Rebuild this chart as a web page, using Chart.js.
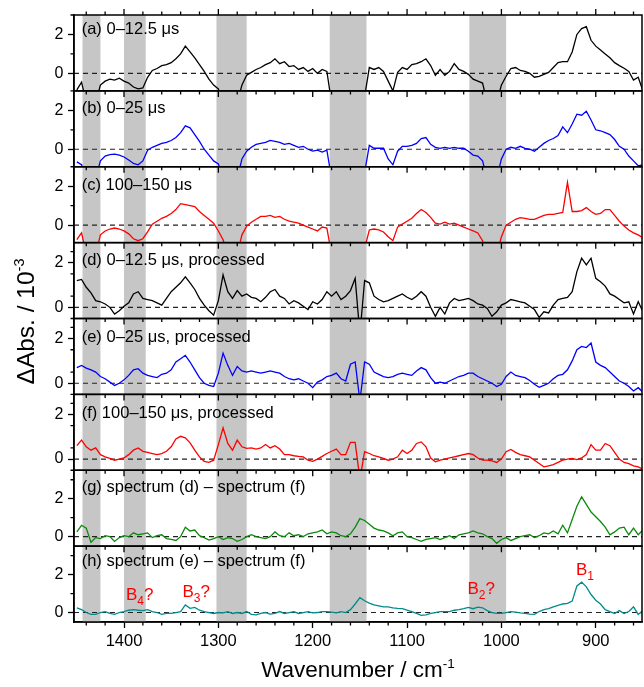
<!DOCTYPE html>
<html><head><meta charset="utf-8">
<script src="https://cdn.jsdelivr.net/npm/chart.js@4/dist/chart.umd.min.js"></script>
<style>html,body{margin:0;padding:0;background:#fff}canvas{display:block}</style>
</head><body>
<canvas id="c" width="644" height="687"></canvas>
<script>
// ---------- data ----------
const wavenumbers = [
1450,1445,1440,1435,1430,1425,1420,1415,1410,1405,
1400,1395,1390,1385,1380,1375,1370,1365,1360,1355,
1350,1345,1340,1335,1330,1325,1320,1315,1310,1305,
1300,1295,1290,1285,1280,1275,1270,1265,1260,1255,
1250,1245,1240,1235,1230,1225,1220,1215,1210,1205,
1200,1195,1190,1185,1180,1175,1170,1165,1160,1155,
1150,1145,1140,1135,1130,1125,1120,1115,1110,1105,
1100,1095,1090,1085,1080,1075,1070,1065,1060,1055,
1050,1045,1040,1035,1030,1025,1020,1015,1010,1005,
1000,995,990,985,980,975,970,965,960,955,
950,945,940,935,930,925,920,915,910,905,
900,895,890,885,880,875,870,865,860,855,
850];

const specA = [
-0.85,-0.45,-1.5,-1.5,-1.5,-0.6,-0.4,-0.3,-0.35,-0.25,
-0.4,-0.5,-0.7,-0.8,-0.75,-0.2,0.15,0.25,0.4,0.45,
0.55,0.75,1.0,1.4,1.1,0.8,0.45,0.1,-0.3,-0.6,
-0.8,-1.5,-1.5,-1.5,-1.5,-0.6,-0.1,0.05,0.2,0.3,
0.45,0.55,0.75,0.5,0.6,0.35,0.4,0.2,0.3,0.1,
0.25,0.0,0.2,0.1,-1.5,-1.5,-1.5,-1.5,-1.5,-1.5,
-1.5,-1.2,0.3,0.2,0.3,0.1,-0.4,-0.9,0.05,0.3,
0.2,0.45,0.5,0.6,0.75,0.4,-0.1,0.2,-0.1,0.1,
0.5,0.2,0.1,-0.05,-0.3,-0.4,-0.5,-1.5,-1.5,-1.5,
-0.6,-0.15,0.25,0.3,0.15,0.1,0.0,-0.2,-0.15,-0.05,
0.05,0.3,0.55,0.6,0.6,1.1,2.0,2.3,2.4,1.7,
1.4,1.2,1.0,0.8,0.55,0.4,0.26,0.1,-0.35,-0.2,
-0.9];

const specB = [
-0.65,-0.8,-1.5,-1.5,-1.5,-0.6,-0.35,-0.28,-0.25,-0.3,
-0.4,-0.55,-0.73,-0.8,-0.6,-0.05,0.1,0.2,0.3,0.35,
0.45,0.6,0.85,1.2,1.1,0.75,0.4,0.0,-0.3,-0.6,
-0.75,-1.5,-1.5,-1.5,-1.5,-0.5,-0.1,0.1,0.25,0.3,
0.35,0.45,0.4,0.35,0.25,0.3,0.2,0.1,0.15,0.0,
-0.1,-0.05,-0.15,-0.05,-1.5,-1.5,-1.5,-1.5,-1.5,-1.5,
-1.5,-1.2,0.2,0.05,0.05,0.05,-0.5,-0.8,-0.1,0.15,
0.15,0.2,0.3,0.55,0.6,0.25,0.1,0.05,0.1,0.05,
0.1,0.05,0.05,-0.1,-0.3,-0.35,-0.6,-1.5,-1.5,-1.5,
-0.5,0.0,0.1,0.05,0.15,0.05,0.0,-0.1,0.1,0.3,
0.45,0.55,0.7,1.15,0.85,1.3,1.8,1.75,1.95,1.5,
1.0,0.95,0.85,0.75,0.5,0.15,0.0,-0.35,-0.6,-0.85,
-0.8];

const specC = [
-0.75,-0.4,-1.5,-1.5,-1.5,-0.5,-0.3,-0.2,-0.15,-0.2,
-0.3,-0.45,-0.7,-0.8,-0.7,-0.35,0.05,0.2,0.35,0.45,
0.6,0.8,1.1,1.05,1.0,0.95,0.7,0.5,0.3,0.1,
-0.3,-0.75,-1.5,-1.5,-1.5,-0.5,-0.05,0.15,0.3,0.45,
0.45,0.5,0.4,0.45,0.3,0.2,0.15,0.1,0.0,-0.1,
-0.2,-0.3,-0.1,-0.15,-1.5,-1.5,-1.5,-1.5,-1.5,-1.5,
-1.5,-1.2,-0.25,-0.2,-0.25,-0.35,-0.6,-0.8,-0.1,0.05,
0.2,0.35,0.6,0.8,0.65,0.4,0.1,0.05,0.15,0.05,
0.1,0.0,-0.1,-0.2,-0.3,-0.4,-0.8,-1.5,-1.5,-1.5,
-0.6,0.0,0.15,0.3,0.38,0.35,0.3,0.3,0.4,0.5,
0.55,0.55,0.6,0.65,2.2,0.7,0.7,0.75,0.9,0.7,
0.55,0.6,0.8,0.8,0.5,0.2,-0.05,-0.25,-0.4,-0.5,
-0.65];

const specD = [
1.2,1.25,0.9,0.65,0.3,0.25,0.15,0.0,-0.3,-0.15,
0.05,0.2,0.6,0.7,0.4,0.35,0.3,0.2,0.1,0.4,
0.7,0.9,1.1,1.37,1.1,0.8,0.4,0.1,-0.15,-0.35,
0.3,1.45,0.7,0.4,0.75,0.5,0.6,0.45,0.4,0.25,
0.45,0.7,0.8,0.5,0.4,0.15,0.3,0.2,0.05,-0.1,
0.25,0.15,0.35,0.7,0.5,0.7,0.35,0.5,0.75,1.3,
-1.2,1.2,1.1,0.5,0.35,0.25,0.3,0.4,0.5,0.6,
0.45,0.35,0.5,0.7,0.5,0.0,-0.4,0.0,-0.3,0.2,
0.4,0.3,0.35,0.4,0.3,0.15,0.1,-0.05,-0.4,-0.2,
0.1,0.2,0.35,0.3,0.25,0.2,0.05,-0.1,-0.45,-0.2,
-0.25,0.1,0.35,0.4,0.45,0.7,1.6,2.2,1.9,2.2,
1.3,1.15,0.95,0.6,0.5,0.35,0.2,0.25,-0.3,0.25,
-0.2];

const specE = [
0.7,0.8,0.68,0.6,0.5,0.3,0.2,0.05,-0.1,0.0,
0.15,0.35,0.6,0.65,0.45,0.35,0.3,0.25,0.4,0.45,
0.6,0.95,1.1,1.25,0.95,0.6,0.25,0.0,-0.1,-0.15,
0.45,1.35,0.8,0.35,0.75,0.55,0.5,0.55,0.5,0.45,
0.5,0.55,0.5,0.45,0.3,0.2,0.15,0.2,0.1,0.0,
-0.2,0.05,0.15,0.3,0.35,0.45,0.2,0.1,0.85,0.95,
-0.8,0.95,0.85,0.5,0.4,0.3,0.25,0.3,0.4,0.45,
0.4,0.35,0.55,0.7,0.6,0.25,0.0,0.05,0.0,0.1,
0.2,0.3,0.35,0.45,0.45,0.3,0.2,0.1,0.0,-0.15,
-0.05,0.3,0.5,0.35,0.3,0.25,0.12,-0.05,-0.18,-0.1,
0.0,0.2,0.35,0.4,0.6,1.0,1.5,1.65,1.6,1.8,
0.95,0.8,0.7,0.5,0.3,0.1,0.0,-0.15,-0.35,-0.2,
-0.4];

const specF = [
0.6,0.85,0.55,0.4,0.5,0.2,0.1,0.03,-0.05,0.0,
0.05,0.2,0.4,0.5,0.35,0.3,0.25,0.2,0.25,0.35,
0.55,0.9,1.02,0.95,0.73,0.4,0.1,-0.1,-0.15,-0.05,
0.65,1.4,0.7,0.4,0.85,0.55,0.48,0.5,0.45,0.5,
0.65,0.5,0.6,0.45,0.2,0.2,0.15,0.12,0.1,-0.05,
-0.1,0.0,0.12,0.25,0.35,0.45,0.2,0.2,0.75,0.75,
-0.9,0.33,0.25,0.15,0.1,0.03,-0.05,0.0,0.1,0.4,
0.25,0.4,0.7,0.77,0.55,0.05,-0.12,-0.05,0.0,0.05,
0.1,0.15,0.2,0.25,0.2,0.05,-0.05,-0.05,-0.08,-0.15,
0.0,0.33,0.43,0.3,0.2,0.15,0.1,-0.05,-0.2,-0.35,
-0.3,-0.25,-0.15,-0.05,0.0,0.03,-0.02,0.05,0.2,0.65,
0.4,0.4,0.7,0.6,0.3,0.0,-0.15,-0.2,-0.3,-0.35,
-0.45];

const specG = [
0.25,0.6,0.45,-0.3,-0.05,-0.1,0.05,0.0,-0.25,-0.05,
0.05,0.0,0.2,0.1,0.15,0.2,-0.05,0.05,0.1,-0.1,
-0.15,-0.2,0.0,0.5,0.3,0.35,0.05,-0.05,-0.18,-0.1,
0.0,-0.15,-0.05,-0.1,-0.25,-0.15,0.0,0.1,0.0,-0.05,
-0.1,0.0,0.25,0.05,0.0,0.2,0.05,0.1,0.0,0.15,
0.2,0.25,0.35,0.15,0.25,0.2,0.05,0.0,0.15,0.5,
0.95,0.85,0.65,0.45,0.35,0.3,0.2,0.05,0.2,0.25,
0.0,-0.05,-0.15,-0.25,-0.15,-0.1,-0.05,-0.15,-0.05,0.05,
-0.1,0.1,0.15,0.2,0.3,0.2,0.15,0.0,-0.1,-0.35,
-0.15,-0.05,-0.2,-0.1,0.0,0.05,0.1,-0.05,0.05,0.2,
0.15,0.3,0.15,0.6,0.2,0.9,1.6,2.1,1.7,1.3,
1.05,0.8,0.5,0.1,0.25,0.45,0.5,0.1,0.45,0.1,
0.35];

const specH = [
0.25,0.15,0.0,-0.1,-0.1,0.0,0.05,-0.05,-0.1,0.0,
0.05,0.12,0.15,0.12,0.1,0.15,0.05,0.0,-0.1,-0.05,
-0.05,0.0,0.05,0.4,0.22,0.27,0.12,0.05,0.0,-0.05,
0.0,-0.02,0.05,-0.05,0.0,-0.05,0.05,-0.1,-0.12,-0.05,
0.0,-0.08,-0.05,0.05,-0.05,0.0,0.05,-0.05,0.0,0.05,
-0.02,0.0,0.05,0.05,0.02,-0.02,0.05,0.0,0.15,0.45,
0.78,0.62,0.5,0.4,0.35,0.3,0.3,0.25,0.22,0.2,
0.12,0.05,-0.05,-0.15,-0.12,-0.05,0.0,0.05,0.05,0.05,
0.12,0.15,0.2,0.27,0.2,0.28,0.25,0.1,0.0,-0.05,
-0.05,0.0,0.05,0.02,-0.02,-0.05,-0.08,-0.1,0.05,0.15,
0.2,0.3,0.38,0.45,0.48,0.6,1.4,1.6,1.35,0.95,
0.65,0.45,0.15,0.05,-0.05,0.1,-0.05,0.05,0.3,-0.1,
0.1];

const panelLabels = [
'(a) 0\u201312.5 \u03bcs',
'(b) 0\u201325 \u03bcs',
'(c) 100\u2013150 \u03bcs',
'(d) 0\u201312.5 \u03bcs, processed',
'(e) 0\u201325 \u03bcs, processed',
'(f) 100\u2013150 \u03bcs, processed',
'(g) spectrum (d) \u2013 spectrum (f)',
'(h) spectrum (e) \u2013 spectrum (f)'
];
const xTickLabels = [1400, 1300, 1200, 1100, 1000, 900];
const xMinorTicks = [1440,1420,1380,1360,1340,1320,1280,1260,1240,1220,1180,1160,1140,1120,1080,1060,1040,1020,980,960,940,920,880,860];
const yTicksRaw = [0, 2];
const yTicksProc = [0, 1, 2];
const yTicksDiff = [0, 2];
const yMinorRaw = [1, 3];
const yMinorProc = [-0.5, 0.5, 1.5, 2.5];
const yMinorDiff = [1, 3];
// excluded (grey) regions [from, to] in cm-1
const bands = [[1444,1425],[1400,1377],[1302,1270],[1182,1143],[1034,995]];
// peak labels in panel (h): text, subscript, suffix, wavenumber, value
const peakNames = ['B', 'B', 'B', 'B'];
const peakSubs = ['4', '3', '2', '1'];
const peakSuffix = ['?', '?', '?', ''];
const peakX = [1398, 1338, 1036, 921];
const peakY = [0.65, 0.83, 0.97, 1.98];

// ---------- config ----------
const X_MIN = 851, X_MAX = 1453;
const FONT = "'Liberation Sans', Arial, Helvetica, sans-serif";
const series = [specA, specB, specC, specD, specE, specF, specG, specH];
const colors = ['#000000','#0000ff','#ff0000','#000000','#0000ff','#ff0000','#0a8a0a','#008b8b'];
const ids = ['ya','yb','yc','yd','ye','yf','yg','yh'];
const yMin = [-0.9,-0.9,-0.9,-0.5,-0.5,-0.5,-0.5,-0.5];
const yMax = [3.0,3.0,3.0,2.9,2.9,2.9,3.5,3.5];
const yMajor = [yTicksRaw,yTicksRaw,yTicksRaw,yTicksProc,yTicksProc,yTicksProc,yTicksDiff,yTicksDiff];
const yMinor = [yMinorRaw,yMinorRaw,yMinorRaw,yMinorProc,yMinorProc,yMinorProc,yMinorDiff,yMinorDiff];
const labelDy = [18.5, 22.5, 23, 22.7, 23.3, 23.8, 21.7, 19.5];

const datasets = [];
series.forEach((s, i) => {
  datasets.push({
    data: s.map((v, k) => ({x: wavenumbers[k], y: v})),
    yAxisID: ids[i], borderColor: colors[i], borderWidth: 1.3,
    pointRadius: 0, tension: 0, fill: false
  });
  datasets.push({
    data: [{x: X_MAX, y: 0}, {x: X_MIN, y: 0}],
    yAxisID: ids[i], borderColor: '#222', borderWidth: 1.1, borderDash: [5, 4],
    pointRadius: 0, fill: false
  });
});

const scales = {
  x: {
    type: 'linear', reverse: true, min: X_MIN, max: X_MAX, position: 'bottom',
    afterBuildTicks: s => { s.ticks = xTickLabels.map(v => ({value: v})); },
    afterFit: s => { s.height = 65; },
    grid: {display: true, drawOnChartArea: false, drawTicks: true, tickLength: 6, tickColor: '#000', tickWidth: 1.3},
    border: {display: true, color: '#000', width: 1.5},
    ticks: {color: '#000', font: {family: FONT, size: 16.5}, padding: 4, maxRotation: 0, autoSkip: false,
            callback: v => String(v)}
  }
};
ids.forEach((id, i) => {
  scales[id] = {
    type: 'linear', position: 'left', stack: 'panels', stackWeight: 1, weight: 8 - i,
    min: yMin[i], max: yMax[i],
    afterBuildTicks: s => { s.ticks = yMajor[i].map(v => ({value: v})); },
    afterFit: s => { s.width = 74; },
    grid: {display: true, drawOnChartArea: false, drawTicks: true, tickLength: 6, tickColor: '#000', tickWidth: 1.3},
    border: {display: true, color: '#000', width: 1.5},
    ticks: {color: '#000', font: {family: FONT, size: 16}, padding: 4.7, callback: v => String(v)}
  };
});

function richText(ctx, parts, x, y) {
  let cx = x;
  parts.forEach(p => {
    ctx.font = p.size + 'px ' + FONT;
    ctx.fillText(p.t, cx, y + (p.dy || 0));
    cx += ctx.measureText(p.t).width;
  });
}
function richWidth(ctx, parts) {
  let w = 0;
  parts.forEach(p => { ctx.font = p.size + 'px ' + FONT; w += ctx.measureText(p.t).width; });
  return w;
}

const decor = {
  id: 'decor',
  beforeDatasetsDraw(chart) {
    const {ctx, chartArea: ca, scales: sc} = chart;
    ctx.save();
    ctx.fillStyle = '#c6c6c6';
    bands.forEach(b => {
      const x1 = sc.x.getPixelForValue(b[0]), x2 = sc.x.getPixelForValue(b[1]);
      ctx.fillRect(Math.min(x1, x2), ca.top, Math.abs(x2 - x1), ca.bottom - ca.top);
    });
    ctx.restore();
  },
  beforeDatasetDraw(chart, args) {
    const {ctx, chartArea: ca} = chart;
    const ys = args.meta.yScale;
    ctx.save();
    ctx.beginPath();
    ctx.rect(ca.left, ys.top, ca.right - ca.left, ys.bottom - ys.top);
    ctx.clip();
  },
  afterDatasetDraw(chart) { chart.ctx.restore(); },
  afterDatasetsDraw(chart) {
    const {ctx, chartArea: ca, scales: sc} = chart;
    const xs = sc.x;
    ctx.save();
    ctx.strokeStyle = '#000';
    ctx.fillStyle = '#000';
    ids.forEach((id, i) => {
      const ys = sc[id];
      ctx.lineWidth = 1.5;
      ctx.strokeRect(ca.left, ys.top, ca.right - ca.left, ys.bottom - ys.top);
      ctx.lineWidth = 1.3;
      ctx.beginPath();
      if (i < ids.length - 1) {
        xTickLabels.forEach(v => { const px = xs.getPixelForValue(v); ctx.moveTo(px, ys.bottom); ctx.lineTo(px, ys.bottom + 6); });
      }
      xMinorTicks.forEach(v => { const px = xs.getPixelForValue(v); ctx.moveTo(px, ys.bottom); ctx.lineTo(px, ys.bottom + 3.5); });
      if (i === 0) {
        xTickLabels.forEach(v => { const px = xs.getPixelForValue(v); ctx.moveTo(px, ys.top); ctx.lineTo(px, ys.top - 6); });
        xMinorTicks.forEach(v => { const px = xs.getPixelForValue(v); ctx.moveTo(px, ys.top); ctx.lineTo(px, ys.top - 3.5); });
      }
      yMinor[i].forEach(v => { const py = ys.getPixelForValue(v); ctx.moveTo(ca.left - 3.5, py); ctx.lineTo(ca.left, py); });
      ctx.stroke();
      ctx.font = '16.5px ' + FONT;
      ctx.textAlign = 'left';
      ctx.textBaseline = 'alphabetic';
      ctx.fillText(panelLabels[i], ca.left + 7.7, ys.top + labelDy[i]);
    });
    const yh = sc.yh;
    ctx.fillStyle = '#ff0000';
    ctx.textBaseline = 'alphabetic';
    peakNames.forEach((n, k) => {
      const px = xs.getPixelForValue(peakX[k]);
      const py = yh.getPixelForValue(peakY[k]);
      richText(ctx, [{t: n, size: 17}, {t: peakSubs[k], size: 12, dy: 5}, {t: peakSuffix[k], size: 17}], px, py);
    });
    ctx.fillStyle = '#000';
    const xt = [{t: 'Wavenumber / cm', size: 22.5}, {t: '-1', size: 13.5, dy: -9}];
    const xw = richWidth(ctx, xt);
    richText(ctx, xt, (ca.left + ca.right) / 2 - xw / 2, 677);
    const yt = [{t: '\u0394Abs. / 10', size: 24.5}, {t: '-3', size: 14.5, dy: -10}];
    const yw = richWidth(ctx, yt);
    ctx.translate(34, (ca.top + ca.bottom) / 2 + 3);
    ctx.rotate(-Math.PI / 2);
    richText(ctx, yt, -yw / 2, 0);
    ctx.restore();
  }
};

new Chart(document.getElementById('c'), {
  type: 'line',
  data: {datasets},
  options: {
    responsive: false, animation: false, parsing: true,
    layout: {padding: {top: 15, right: 2, left: 0, bottom: 0}},
    plugins: {legend: {display: false}, tooltip: {enabled: false}},
    scales
  },
  plugins: [decor]
});
</script>
</body></html>
